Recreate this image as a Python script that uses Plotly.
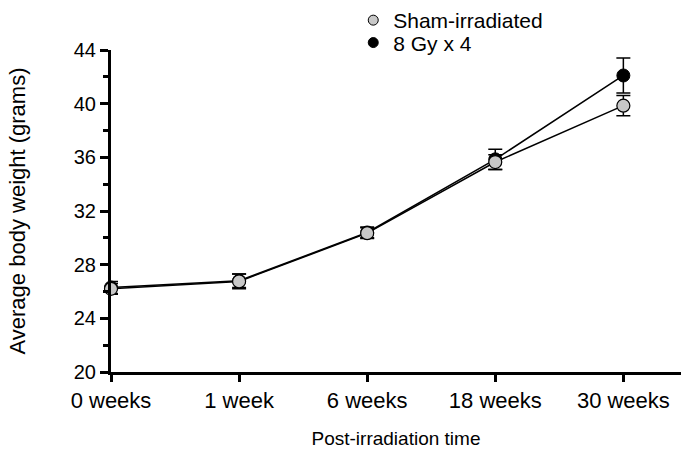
import plotly.graph_objects as go

# Body weight over time after irradiation (mean ± SEM)
timepoints = ["0 weeks", "1 week", "6 weeks", "18 weeks", "30 weeks"]

sham_mean = [26.2, 26.75, 30.35, 35.65, 39.85]
sham_err = [0.4, 0.55, 0.4, 0.55, 0.75]

irr_mean = [26.3, 26.8, 30.4, 35.85, 42.1]
irr_err = [0.45, 0.5, 0.4, 0.75, 1.3]

y_ticks = [20, 24, 28, 32, 36, 40, 44]

FONT = "Liberation Sans, Arial, sans-serif"

fig = go.Figure()

# irradiated group drawn first so the sham markers sit on top
fig.add_trace(go.Scatter(
    x=timepoints, y=irr_mean, mode="lines+markers", name="8 Gy x 4",
    showlegend=False, cliponaxis=False,
    line=dict(color="black", width=1.5),
    marker=dict(color="black", size=13, line=dict(color="black", width=1)),
    error_y=dict(type="data", array=irr_err, color="black", thickness=1.5, width=7),
))
fig.add_trace(go.Scatter(
    x=timepoints, y=sham_mean, mode="lines+markers", name="Sham-irradiated",
    showlegend=False, cliponaxis=False,
    line=dict(color="black", width=1.5),
    marker=dict(color="#c8c8c8", size=13, line=dict(color="black", width=1.2)),
    error_y=dict(type="data", array=sham_err, color="black", thickness=1.5, width=7),
))

# legend entries with smaller symbols, one legend box per entry for tight spacing
fig.add_trace(go.Scatter(
    x=[None], y=[None], mode="markers", name="Sham-irradiated", legend="legend",
    marker=dict(color="#c8c8c8", size=10, line=dict(color="black", width=1)),
))
fig.add_trace(go.Scatter(
    x=[None], y=[None], mode="markers", name="8 Gy x 4", legend="legend2",
    marker=dict(color="black", size=10, line=dict(color="black", width=1)),
))

legend_style = dict(
    xanchor="left", yanchor="middle",
    font=dict(size=21, family=FONT), bgcolor="rgba(0,0,0,0)",
    itemwidth=30,
)

fig.update_layout(
    width=681, height=452,
    margin=dict(l=111, r=0, t=50, b=80),
    paper_bgcolor="white", plot_bgcolor="white",
    font=dict(family=FONT, color="black", size=20),
    showlegend=True,
    legend=dict(x=0.425, y=1.093, **legend_style),
    legend2=dict(x=0.425, y=1.022, **legend_style),
    xaxis=dict(
        type="category", range=[0, 4.45],
        showgrid=False, zeroline=False,
        showline=True, linecolor="black", linewidth=3,
        ticks="outside", ticklen=7, tickwidth=3, tickcolor="black",
        tickfont=dict(size=22, family=FONT),
        title=dict(text="Post-irradiation time", font=dict(size=19, family=FONT), standoff=20),
    ),
    yaxis=dict(
        range=[20, 44], tickvals=y_ticks,
        showgrid=False, zeroline=False,
        showline=True, linecolor="black", linewidth=3,
        ticks="outside", ticklen=8, tickwidth=2.5, tickcolor="black",
        tickfont=dict(size=20, family=FONT),
        minor=dict(dtick=2, ticks="outside", ticklen=5, tickwidth=3, tickcolor="black", showgrid=False),
        title=dict(text="Average body weight (grams)", font=dict(size=22, family=FONT), standoff=43),
    ),
)

fig.write_html("out.html")
